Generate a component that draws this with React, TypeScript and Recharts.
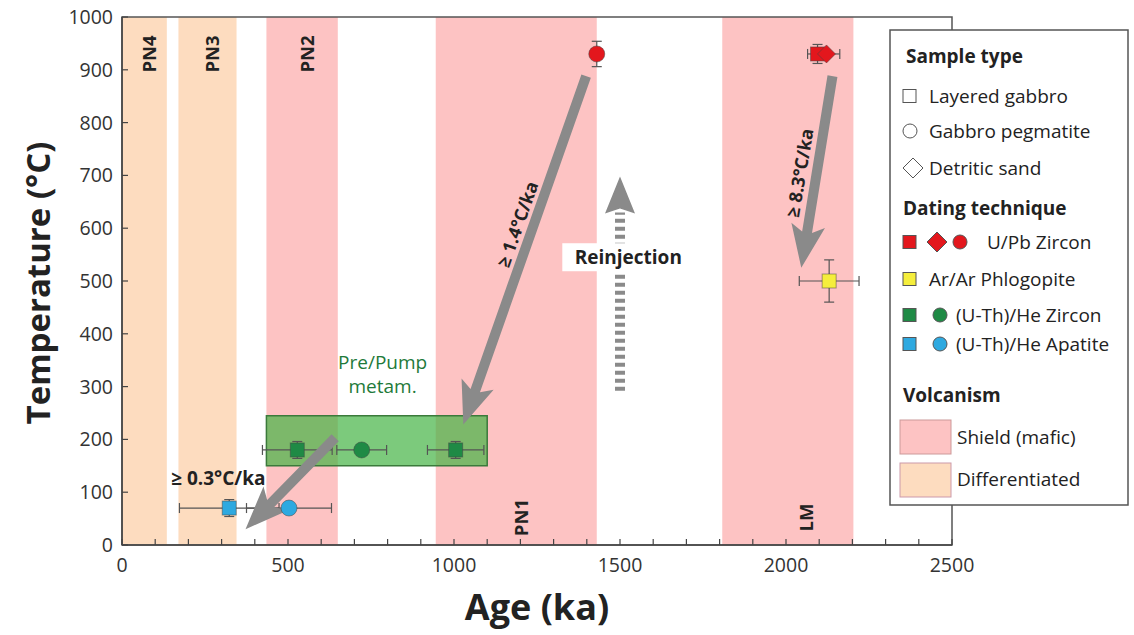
import React from 'react';
import {
  ComposedChart, Scatter, XAxis, YAxis, ErrorBar, ReferenceArea, ReferenceLine, ReferenceDot,
} from 'recharts';

const FONT = "'Open Sans', 'Noto Sans', sans-serif";
const PINK = '#fdc3c3';
const ORANGE = '#fddcbf';
const RED = '#e3171d';
const GREEN = '#1f8a45';
const BLUE = '#2ea9e0';
const YELLOW = '#f5ee3c';
const GRAY = '#8a8a8a';

// ages in ka, temperatures in °C
const xTicks = [0, 100, 200, 300, 400, 500, 600, 700, 800, 900, 1000, 1100, 1200, 1300, 1400, 1500, 1600, 1700, 1800, 1900, 2000, 2100, 2200, 2300, 2400, 2500];
const yTicks = [0, 100, 200, 300, 400, 500, 600, 700, 800, 900, 1000];

const volcanicBands = [
  { name: 'PN4', from: 0, to: 135, type: 'diff', labelAt: 'top' },
  { name: 'PN3', from: 170, to: 345, type: 'diff', labelAt: 'top' },
  { name: 'PN2', from: 435, to: 650, type: 'shield', labelAt: 'top' },
  { name: 'PN1', from: 945, to: 1430, type: 'shield', labelAt: 'bottom' },
  { name: 'LM', from: 1808, to: 2203, type: 'shield', labelAt: 'bottom' },
];

const metamBox = { from: 435, to: 1100, low: 150, high: 245 };

const uPbSquare = [{ age: 2095, temp: 930, xErr: 30, yErr: 18 }];
const uPbDiamond = [{ age: 2122, temp: 930, xErr: 40, yErr: 18 }];
const uPbCircle = [{ age: 1430, temp: 930, xErr: 0, yErr: 24 }];
const arArSquare = [{ age: 2130, temp: 500, xErr: 90, yErr: 40 }];
const heZirconSquare = [
  { age: 528, temp: 180, xErr: 105, yErr: 16 },
  { age: 1005, temp: 180, xErr: 85, yErr: 16 },
];
const heZirconCircle = [{ age: 722, temp: 180, xErr: 75, yErr: 0 }];
const heApatiteSquare = [{ age: 323, temp: 70, xErr: 150, yErr: 16 }];
const heApatiteCircle = [{ age: 503, temp: 70, xErr: 128, yErr: 0 }];

const coolingArrows = [
  { from: [1398, 888], to: [1028, 228], label: '≥ 1.4°C/ka', labelPos: [1190, 608], angle: -70.5 },
  { from: [2140, 888], to: [2046, 525], label: '≥ 8.3°C/ka', labelPos: [2040, 705], angle: -80.5 },
  { from: [642, 203], to: [372, 30], label: '', labelPos: [0, 0], angle: 0 },
];
const slowLabel = { age: 290, temp: 127, text: '≥ 0.3°C/ka' };
const reinjection = { age: 1500, fromTemp: 292, toTemp: 698, labelAge: 1525, labelTemp: 545 };

function arrowPoints(x1: number, y1: number, x2: number, y2: number, shaft = 5, headLen = 36, headHalf = 17) {
  const dx = x2 - x1;
  const dy = y2 - y1;
  const L = Math.hypot(dx, dy);
  const ux = dx / L, uy = dy / L;
  const nx = -uy, ny = ux;
  const bx = x2 - ux * headLen, by = y2 - uy * headLen;
  const back = 7;
  const pts = [
    [x1 + nx * shaft, y1 + ny * shaft],
    [bx + nx * shaft, by + ny * shaft],
    [bx - ux * back + nx * headHalf, by - uy * back + ny * headHalf],
    [x2, y2],
    [bx - ux * back - nx * headHalf, by - uy * back - ny * headHalf],
    [bx - nx * shaft, by - ny * shaft],
    [x1 - nx * shaft, y1 - ny * shaft],
  ];
  return pts.map((p) => p.join(',')).join(' ');
}

const SolidArrow = (p: any) => (
  <polygon points={arrowPoints(p.x1, p.y1, p.x2, p.y2)} fill={GRAY} />
);

const DashedArrow = (p: any) => {
  const headLen = 32;
  const ux = (p.x2 - p.x1) / Math.hypot(p.x2 - p.x1, p.y2 - p.y1);
  const uy = (p.y2 - p.y1) / Math.hypot(p.x2 - p.x1, p.y2 - p.y1);
  const bx = p.x2 - ux * headLen, by = p.y2 - uy * headLen;
  const nx = -uy, ny = ux;
  return (
    <g>
      <line x1={p.x1} y1={p.y1} x2={bx} y2={by + 4} stroke={GRAY} strokeWidth={10} strokeDasharray="4 4" />
      <polygon
        points={[
          [bx + nx * 15, by + ny * 15 + 5],
          [p.x2, p.y2],
          [bx - nx * 15, by - ny * 15 + 5],
          [bx, by],
        ].map((q) => q.join(',')).join(' ')}
        fill={GRAY}
      />
    </g>
  );
};

const squareShape = (fill: string, size = 14) => (p: any) => (
  <rect x={p.cx - size / 2} y={p.cy - size / 2} width={size} height={size} fill={fill} stroke="#444" strokeOpacity={0.5} strokeWidth={1} />
);
const circleShape = (fill: string, r = 8) => (p: any) => (
  <circle cx={p.cx} cy={p.cy} r={r} fill={fill} stroke="#444" strokeOpacity={0.5} strokeWidth={1} />
);
const diamondShape = (fill: string, r = 9) => (p: any) => (
  <polygon points={`${p.cx},${p.cy - r} ${p.cx + r},${p.cy} ${p.cx},${p.cy + r} ${p.cx - r},${p.cy}`} fill={fill} stroke="#444" strokeOpacity={0.5} strokeWidth={1} />
);

const XTick = (p: any) => {
  const v = p.payload.value;
  return (
    <g>
      <line x1={p.x} y1={p.y} x2={p.x} y2={p.y - 6} stroke="#444" strokeWidth={1.2} />
      {v % 500 === 0 && (
        <text x={p.x} y={p.y + 27} textAnchor="middle" fontFamily={FONT} fontSize={19.5} fill="#333">{v}</text>
      )}
    </g>
  );
};

const YTick = (p: any) => (
  <g>
    <line x1={p.x} y1={p.y} x2={p.x + 6} y2={p.y} stroke="#444" strokeWidth={1.2} />
    <text x={p.x - 9} y={p.y + 7} textAnchor="end" fontFamily={FONT} fontSize={19.5} fill="#333">{p.payload.value}</text>
  </g>
);

const errBar = (key: string, dir: 'x' | 'y') => (
  <ErrorBar dataKey={key} direction={dir} width={5} stroke="#555" strokeWidth={1.2} />
);

const Legend = () => {
  const t = (x: number, y: number, s: string, bold = false) => (
    <text x={x} y={y} fontFamily={FONT} fontSize={19} fontWeight={bold ? 700 : 400} fill="#222" dominantBaseline="central">{s}</text>
  );
  const sq = (x: number, y: number, fill: string) => <rect x={x} y={y - 6.5} width={13} height={13} fill={fill} stroke="#555" strokeWidth={1} />;
  const ci = (x: number, y: number, fill: string) => <circle cx={x + 7} cy={y} r={7} fill={fill} stroke="#555" strokeWidth={1} />;
  const di = (x: number, y: number, fill: string) => <polygon points={`${x + 10},${y - 10} ${x + 20},${y} ${x + 10},${y + 10} ${x},${y}`} fill={fill} stroke="#555" strokeWidth={1} />;
  return (
    <svg width={1134} height={635} style={{ position: 'absolute', left: 0, top: 0, pointerEvents: 'none' }}>
      <rect x={890} y={30} width={238} height={475} fill="#fff" stroke="#555" strokeWidth={1.5} />
      {t(906, 56, 'Sample type', true)}
      {sq(903, 96, '#fff')}{t(929, 96, 'Layered gabbro')}
      {ci(903, 131, '#fff')}{t(929, 131, 'Gabbro pegmatite')}
      {di(903, 168, '#fff')}{t(929, 168, 'Detritic sand')}
      {t(903, 208, 'Dating technique', true)}
      {sq(903, 242, RED)}{di(927, 242, RED)}{ci(953, 242, RED)}{t(987, 242, 'U/Pb Zircon')}
      {sq(903, 279, YELLOW)}{t(929, 279, 'Ar/Ar Phlogopite')}
      {sq(903, 315, GREEN)}{ci(933, 315, GREEN)}{t(956, 315, '(U-Th)/He Zircon')}
      {sq(903, 344, BLUE)}{ci(933, 344, BLUE)}{t(956, 344, '(U-Th)/He Apatite')}
      {t(903, 395, 'Volcanism', true)}
      <rect x={900} y={420} width={51} height={34} fill={PINK} stroke="#c99" strokeWidth={1} />
      {t(957, 437, 'Shield (mafic)')}
      <rect x={900} y={463} width={51} height={34} fill={ORANGE} stroke="#c9a" strokeWidth={1} />
      {t(957, 479, 'Differentiated')}
    </svg>
  );
};

export default function App() {
  return (
    <div style={{ position: 'absolute', left: 0, top: 0, width: 1134, height: 635, background: '#fff' }}>
      <ComposedChart width={1134} height={635} margin={{ top: 17, right: 182, bottom: 60, left: 62 }}>
        <XAxis
          type="number"
          dataKey="age"
          domain={[0, 2500]}
          ticks={xTicks}
          interval={0}
          tickLine={false}
          tickSize={0}
          tickMargin={0}
          tick={<XTick />}
          axisLine={{ stroke: '#444', strokeWidth: 1.5 }}
          height={30}
          label={{
            content: () => (
              <text x={537} y={620} textAnchor="middle" fontFamily={FONT} fontSize={36} fontWeight={700} fill="#222">Age (ka)</text>
            ),
          }}
        />
        <YAxis
          type="number"
          dataKey="temp"
          domain={[0, 1000]}
          ticks={yTicks}
          interval={0}
          tickLine={false}
          tickSize={0}
          tickMargin={0}
          tick={<YTick />}
          axisLine={{ stroke: '#444', strokeWidth: 1.5 }}
          width={60}
          label={{
            content: () => (
              <text x={0} y={0} transform="translate(50,283) rotate(-90)" textAnchor="middle" fontFamily={FONT} fontSize={33} fontWeight={700} fill="#222">Temperature (°C)</text>
            ),
          }}
        />
        {volcanicBands.map((b) => (
          <ReferenceArea key={b.name} x1={b.from} x2={b.to} y1={0} y2={1000} fill={b.type === 'shield' ? PINK : ORANGE} fillOpacity={1} stroke="none" />
        ))}
        <ReferenceArea x1={0} x2={2500} y1={0} y2={1000} fill="none" stroke="#555" strokeWidth={1.5} />
        {volcanicBands.map((b) => (
          <ReferenceDot
            key={'l' + b.name}
            x={(b.from + b.to) / 2 + (b.name === 'LM' ? 40 : 0)}
            y={b.labelAt === 'top' ? 930 : 52}
            r={0}
            shape={(p: any) => (
              <text x={0} y={0} transform={`translate(${p.cx + 4},${p.cy}) rotate(-90)`} textAnchor="middle" dominantBaseline="central" fontFamily={FONT} fontSize={18.5} fontWeight={700} fill="#222">{b.name}</text>
            )}
          />
        ))}
        <ReferenceArea x1={metamBox.from} x2={metamBox.to} y1={metamBox.low} y2={metamBox.high} fill="#45b445" fillOpacity={0.7} stroke="#3b7a3b" strokeWidth={1.5} />
        <ReferenceDot
          x={785}
          y={325}
          r={0}
          shape={(p: any) => (
            <text x={p.cx} y={p.cy} textAnchor="middle" fontFamily={FONT} fontSize={19} fill="#1e7a3a">
              <tspan x={p.cx} dy={-4}>Pre/Pump</tspan>
              <tspan x={p.cx} dy={24}>metam.</tspan>
            </text>
          )}
        />
        <Scatter data={heZirconSquare} dataKey="temp" isAnimationActive={false} shape={squareShape(GREEN)}>
          {errBar('xErr', 'x')}
          {errBar('yErr', 'y')}
        </Scatter>
        <Scatter data={heZirconCircle} dataKey="temp" isAnimationActive={false} shape={circleShape(GREEN)}>
          {errBar('xErr', 'x')}
        </Scatter>
        <Scatter data={heApatiteSquare} dataKey="temp" isAnimationActive={false} shape={squareShape(BLUE)}>
          {errBar('xErr', 'x')}
          {errBar('yErr', 'y')}
        </Scatter>
        <Scatter data={heApatiteCircle} dataKey="temp" isAnimationActive={false} shape={circleShape(BLUE)}>
          {errBar('xErr', 'x')}
        </Scatter>
        <Scatter data={uPbCircle} dataKey="temp" isAnimationActive={false} shape={circleShape(RED)}>
          {errBar('yErr', 'y')}
        </Scatter>
        <Scatter data={uPbSquare} dataKey="temp" isAnimationActive={false} shape={squareShape(RED)}>
          {errBar('xErr', 'x')}
          {errBar('yErr', 'y')}
        </Scatter>
        <Scatter data={uPbDiamond} dataKey="temp" isAnimationActive={false} shape={diamondShape(RED)}>
          {errBar('xErr', 'x')}
        </Scatter>
        <Scatter data={arArSquare} dataKey="temp" isAnimationActive={false} shape={squareShape(YELLOW)}>
          {errBar('xErr', 'x')}
          {errBar('yErr', 'y')}
        </Scatter>
        {coolingArrows.map((a, i) => (
          <ReferenceLine
            key={'a' + i}
            segment={[{ x: a.from[0], y: a.from[1] }, { x: a.to[0], y: a.to[1] }]}
            shape={SolidArrow}
            ifOverflow="visible"
          />
        ))}
        {coolingArrows.filter((a) => a.label).map((a, i) => (
          <ReferenceDot
            key={'al' + i}
            x={a.labelPos[0]}
            y={a.labelPos[1]}
            r={0}
            shape={(p: any) => (
              <text x={0} y={0} transform={`translate(${p.cx},${p.cy}) rotate(${a.angle})`} textAnchor="middle" dominantBaseline="central" fontFamily={FONT} fontSize={18} fontWeight={700} fill="#222">{a.label}</text>
            )}
          />
        ))}
        <ReferenceDot
          x={slowLabel.age}
          y={slowLabel.temp}
          r={0}
          shape={(p: any) => (
            <text x={p.cx} y={p.cy} textAnchor="middle" dominantBaseline="central" fontFamily={FONT} fontSize={19} fontWeight={700} fill="#222">{slowLabel.text}</text>
          )}
        />
        <ReferenceLine
          segment={[{ x: reinjection.age, y: reinjection.fromTemp }, { x: reinjection.age, y: reinjection.toTemp }]}
          shape={DashedArrow}
          ifOverflow="visible"
        />
        <ReferenceDot
          x={reinjection.labelAge}
          y={reinjection.labelTemp}
          r={0}
          shape={(p: any) => (
            <g>
              <rect x={p.cx - 66} y={p.cy - 14} width={132} height={28} fill="#fff" />
              <text x={p.cx} y={p.cy} textAnchor="middle" dominantBaseline="central" fontFamily={FONT} fontSize={19} fontWeight={700} fill="#222">Reinjection</text>
            </g>
          )}
        />
      </ComposedChart>
      <Legend />
    </div>
  );
}
